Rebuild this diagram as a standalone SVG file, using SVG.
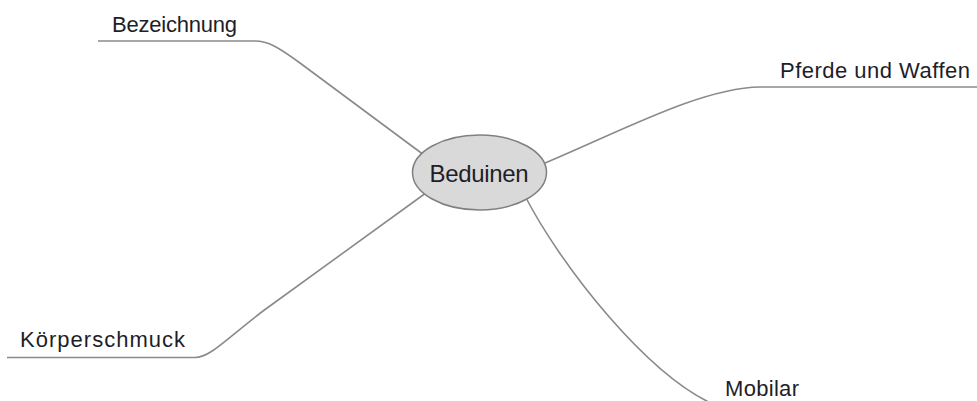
<svg xmlns="http://www.w3.org/2000/svg" width="977" height="401" viewBox="0 0 977 401">
<style>
.c{fill:none;stroke:#8a8a8a;stroke-width:1.6}
.t{font-family:"Liberation Sans",Arial,sans-serif;font-size:22px;fill:#1e1e2a}
</style>
<rect width="977" height="401" fill="#ffffff"/>
<g id="connectors">
<path class="c" d="M 98 41 H 255 C 268 41 278 47 300 63 L 428 158"/>
<path class="c" d="M 538 166 C 620 132 700 88 760 87 H 977"/>
<path class="c" d="M 7 357.5 H 195 C 210 357.5 225 340 263 311 L 430 190"/>
<path class="c" d="M 524 194 C 560 265 650 380 720 407 H 810"/>
</g>
<g id="center">
<ellipse cx="479.5" cy="172.5" rx="67" ry="37.5" fill="#d9d9d9" stroke="#808080" stroke-width="1.5"/>
<text class="t" x="479" y="182" text-anchor="middle" style="font-size:24px" textLength="99">Beduinen</text>
</g>
<g id="bezeichnung">
<text class="t" x="112" y="32" textLength="125">Bezeichnung</text>
</g>
<g id="pferde">
<text class="t" x="780" y="78" textLength="190">Pferde und Waffen</text>
</g>
<g id="koerperschmuck">
<text class="t" x="20" y="347" textLength="165">Körperschmuck</text>
</g>
<g id="mobilar">
<text class="t" x="725" y="396" textLength="74">Mobilar</text>
</g>
</svg>
